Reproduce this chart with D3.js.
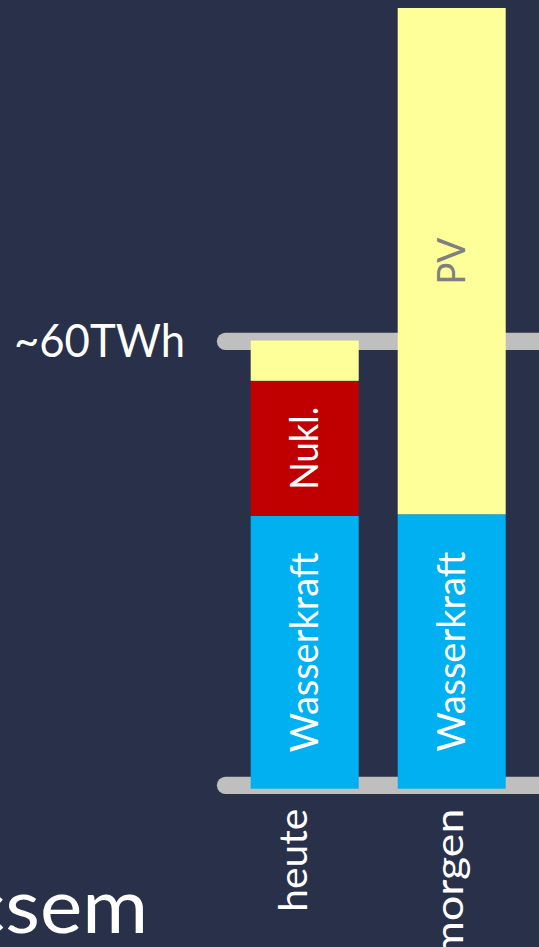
<!DOCTYPE html>
<html>
<head>
<meta charset="utf-8">
<script src="https://cdn.jsdelivr.net/npm/d3@7"></script>
<style>
  html, body { margin: 0; padding: 0; background: #29314a; }
  svg { display: block; }
</style>
</head>
<body>
<script>
// Swiss electricity production, today vs. tomorrow (TWh per year)
const categories = ["heute", "morgen"];
const seriesNames = ["Wasserkraft", "Nukl.", "PV"];
const wasserkraft = [36.6, 36.8];
const nuklear = [18.1, 0];
const pv = [5.4, 67.9];
const refTicks = [0, 60];
const refLabel = "~60TWh";
const brand = "csem";

const W = 539, H = 947;
const colors = { "Wasserkraft": "#00b0f0", "Nukl.": "#c00000", "PV": "#ffff99" };
const labelColors = { "Wasserkraft": "#ffffff", "Nukl.": "#ffffff", "PV": "#7f7f7f" };
const font = "Lato, 'Open Sans', sans-serif";

const svg = d3.select("body").append("svg")
  .attr("width", W).attr("height", H);

svg.append("rect").attr("width", W).attr("height", H).attr("fill", "#29314a");

const x = d3.scaleBand()
  .domain(categories)
  .range([250.7, 505.7])
  .paddingInner(39 / 147)
  .paddingOuter(0);

const y = d3.scaleLinear()
  .domain([0, 60])
  .range([788.7, 341.3]);

// stacked table
const table = categories.map((c, i) => ({
  cat: c,
  "Wasserkraft": wasserkraft[i],
  "Nukl.": nuklear[i],
  "PV": pv[i]
}));
const stacked = d3.stack().keys(seriesNames)(table);

// reference lines (drawn below the bars)
const baseLift = 3.4;
svg.append("g").selectAll("line")
  .data(refTicks)
  .join("line")
  .attr("x1", 225.5)
  .attr("x2", W + 20)
  .attr("y1", d => y(d) - (d === 0 ? baseLift : 0))
  .attr("y2", d => y(d) - (d === 0 ? baseLift : 0))
  .attr("stroke", "#bfbfbf")
  .attr("stroke-width", 17.3)
  .attr("stroke-linecap", "round");

svg.append("text")
  .attr("x", 185)
  .attr("y", y(60) + 15.4)
  .attr("text-anchor", "end")
  .attr("fill", "#ffffff")
  .attr("font-family", font)
  .attr("font-weight", 400)
  .attr("font-size", 47)
  .attr("textLength", 171)
  .attr("lengthAdjust", "spacingAndGlyphs")
  .text(refLabel);

// bars
const layers = svg.append("g").selectAll("g")
  .data(stacked)
  .join("g")
  .attr("fill", d => colors[d.key]);

layers.selectAll("rect")
  .data(d => d.map(s => ({ key: d.key, cat: s.data.cat, y0: s[0], y1: s[1] })))
  .join("rect")
  .attr("x", d => x(d.cat))
  .attr("width", x.bandwidth())
  .attr("y", d => y(d.y1))
  .attr("height", d => y(d.y0) - y(d.y1));

// segment labels, rotated inside the bars
const segLabelLen = { "Wasserkraft": 200, "Nukl.": 83, "PV": 47 };
const segs = [];
stacked.forEach(layer => layer.forEach(s => {
  if (s[1] - s[0] >= 10) segs.push({ key: layer.key, cat: s.data.cat, y0: s[0], y1: s[1] });
}));

svg.append("g").selectAll("text")
  .data(segs)
  .join("text")
  .attr("transform", d => {
    const cx = x(d.cat) + x.bandwidth() / 2;
    const cy = (y(d.y0) + y(d.y1)) / 2;
    return `translate(${cx},${cy}) rotate(-90)`;
  })
  .attr("dy", "0.36em")
  .attr("text-anchor", "middle")
  .attr("fill", d => labelColors[d.key])
  .attr("font-family", font)
  .attr("font-weight", 400)
  .attr("font-size", 38)
  .attr("textLength", d => segLabelLen[d.key])
  .attr("lengthAdjust", "spacingAndGlyphs")
  .text(d => d.key);

// category labels below the baseline
const catShift = { "heute": 2, "morgen": 11.4 };
const catLen = { "heute": 103, "morgen": 149 };
svg.append("g").selectAll("text")
  .data(categories)
  .join("text")
  .attr("transform", d => `translate(${x(d) + x.bandwidth() / 2 + catShift[d]},${y(0) + 20}) rotate(-90)`)
  .attr("text-anchor", "end")
  .attr("fill", "#ffffff")
  .attr("font-family", font)
  .attr("font-weight", 400)
  .attr("font-size", 38)
  .attr("textLength", d => catLen[d])
  .attr("lengthAdjust", "spacingAndGlyphs")
  .text(d => d);

// brand mark in the lower left corner
svg.append("text")
  .attr("x", 148)
  .attr("y", 933.3)
  .attr("text-anchor", "end")
  .attr("fill", "#ffffff")
  .attr("font-family", font)
  .attr("font-weight", 400)
  .attr("font-size", 75)
  .attr("textLength", 181)
  .attr("lengthAdjust", "spacingAndGlyphs")
  .text(brand);
</script>
</body>
</html>
